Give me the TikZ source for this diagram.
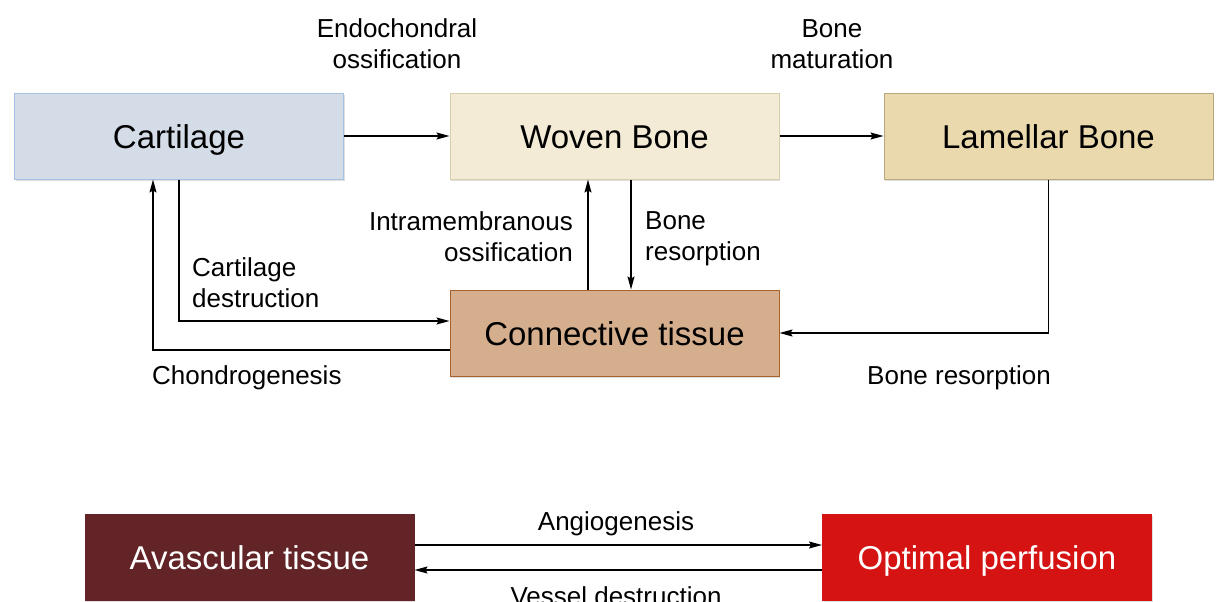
\documentclass[tikz,border=0pt]{standalone}
\usepackage{fontspec}
\setmainfont{Liberation Sans}
\usetikzlibrary{arrows.meta,shadows}
\definecolor{cartfill}{HTML}{D4DDE7}
\definecolor{cartdraw}{HTML}{A4C2E4}
\definecolor{wovenfill}{HTML}{F3EBD6}
\definecolor{wovendraw}{HTML}{D8CDA9}
\definecolor{lamfill}{HTML}{EAD9AD}
\definecolor{lamdraw}{HTML}{B8A77A}
\definecolor{connfill}{HTML}{D5AF8D}
\definecolor{conndraw}{HTML}{A9622D}
\definecolor{avfill}{HTML}{622426}
\definecolor{opfill}{HTML}{D51313}
\tikzset{
  box/.style={rectangle, minimum width=329pt, minimum height=86pt, inner sep=0pt,
    text height=24pt, text depth=0pt,
    line width=1pt, font=\fontsize{33}{40}\selectfont,
    drop shadow={opacity=0.25, shadow xshift=1pt, shadow yshift=-1.5pt}},
  lbl/.style={font=\fontsize{26}{31}\selectfont, inner sep=0pt},
  arr/.style={line width=1.3pt, -{Stealth[length=13pt,width=7pt,inset=2pt]}}
}
\begin{document}
\begin{tikzpicture}[x=1pt,y=-1pt]
\useasboundingbox[fill=white] (0,0) rectangle (1218,602);
\node[box, fill=cartfill, draw=cartdraw] (cart) at (179,136) {Cartilage};
\node[box, fill=wovenfill, draw=wovendraw] (woven) at (614.5,136) {Woven Bone};
\node[box, fill=lamfill, draw=lamdraw] (lam) at (1048.5,136) {Lamellar Bone};
\node[box, fill=connfill, draw=conndraw] (conn) at (614.5,333) {Connective tissue};
\node[box, fill=avfill, draw=avfill, text=white] (av) at (249.5,557) {Avascular tissue};
\node[box, fill=opfill, draw=opfill, text=white] (op) at (987,557) {Optimal perfusion};

\draw[arr] (cart.east) -- (woven.west);
\draw[arr] (woven.east) -- (lam.west);
\draw[arr] (cart.south) |- ([yshift=12pt]conn.west);
\draw[arr] ([yshift=-17pt]conn.west) -| ([xshift=-26pt]cart.south);
\draw[arr] ([xshift=-26.5pt]conn.north) -- ([xshift=-26.5pt]woven.south);
\draw[arr] ([xshift=16.5pt]woven.south) -- ([xshift=16.5pt]conn.north);
\draw[arr] (lam.south) |- (conn.east);
\draw[arr] ([yshift=12pt]av.east) -- ([yshift=12pt]op.west);
\draw[arr] ([yshift=-13pt]op.west) -- ([yshift=-13pt]av.east);

\node[lbl, align=center] (l1) at (397,44) {Endochondral\\ossification};
\node[lbl, align=center] (l2) at (832,44) {Bone\\maturation};
\node[lbl, align=right, anchor=east] (l3) at (573,236.5) {Intramembranous\\ossification};
\node[lbl, align=left, anchor=west] (l4) at (645,238.5) {Bone\\resorption};
\node[lbl, align=left, anchor=west] (l5) at (192,283) {Cartilage\\destruction};
\node[lbl, anchor=west] (l6) at (152,378) {Chondrogenesis};
\node[lbl, anchor=west] (l7) at (867,378) {Bone resorption};
\node[lbl] (l8) at (616,524) {Angiogenesis};
\node[lbl] (l9) at (616,596) {Vessel destruction};
\end{tikzpicture}
\end{document}
